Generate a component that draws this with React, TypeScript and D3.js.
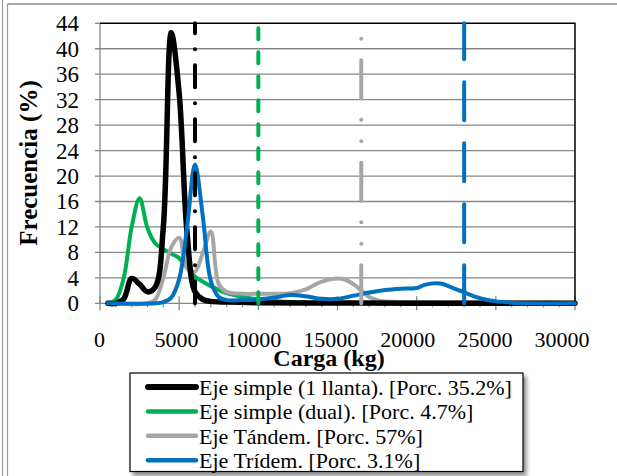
import React from 'react';
import * as d3 from 'd3';

// carga (kg), frecuencia (%)
const simpleLlanta: [number, number][] = [
  [500, 0], [1000, 0], [1500, 0.7], [2000, 3.9], [2500, 3], [3000, 1.8], [3500, 2.6],
  [4000, 12], [4500, 42.5], [5000, 33], [5500, 11], [6000, 1.8], [6500, 0.6], [7000, 0.3],
  [8000, 0.2], [10000, 0.1], [15000, 0.05], [20000, 0], [30000, 0],
];
const simpleDual: [number, number][] = [
  [500, 0], [1000, 0.6], [1500, 4], [2000, 12], [2500, 16.5], [3000, 11.8], [3500, 9.4],
  [4000, 8.5], [4500, 7.8], [5000, 7.1], [5500, 5.6], [6000, 4.2], [6500, 3.4], [7000, 2.7],
  [7500, 2.1], [8000, 1.6], [9000, 1], [10000, 0.6], [11000, 0.35], [12000, 0.2],
  [13000, 0.1], [15000, 0.05], [20000, 0], [30000, 0],
];
const tandem: [number, number][] = [
  [500, 0], [3000, 0], [3500, 0.6], [4000, 4], [4500, 8.8], [5000, 10.3], [5500, 5.5],
  [6000, 5], [6500, 8], [7000, 11.3], [7500, 3], [8000, 1.8], [9000, 1.5], [10000, 1.5],
  [11000, 1.5], [12000, 1.6], [13000, 2.2], [14000, 3.4], [15000, 3.9], [15500, 3.7],
  [16000, 3], [16500, 2], [17000, 1], [17500, 0.5], [18000, 0.3], [20000, 0.2],
  [25000, 0.15], [30000, 0.1],
];
const tridem: [number, number][] = [
  [500, 0], [3500, 0], [4000, 0.2], [4500, 0.9], [5000, 3.8], [5500, 12], [6000, 21.8],
  [6500, 13.5], [7000, 3.5], [7500, 1], [8000, 0.5], [9000, 0.5], [10000, 0.6], [11000, 0.9],
  [12000, 1.3], [13000, 1.1], [14000, 0.7], [15000, 0.7], [16000, 1.2], [17000, 1.7],
  [18000, 2.1], [19000, 2.3], [20000, 2.4], [20500, 2.9], [21500, 3.1], [22000, 2.7],
  [23000, 1.7], [24000, 0.8], [25000, 0.3], [26000, 0.1], [27000, 0], [30000, 0],
];

const legendLabels = [
  'Eje simple (1 llanta). [Porc. 35.2%]',
  'Eje simple (dual). [Porc. 4.7%]',
  'Eje Tándem. [Porc. 57%]',
  'Eje Trídem. [Porc. 3.1%]',
];
const refLoads = [6000, 10000, 16500, 23000];
const xTicks = [0, 5000, 10000, 15000, 20000, 25000, 30000];
const yTicks = [0, 4, 8, 12, 16, 20, 24, 28, 32, 36, 40, 44];

const colors = ['#000000', '#00b050', '#a6a6a6', '#0070c0'];
const widths = [5.5, 4, 4, 4];
const dashes = ['22 16 0 16', '11 13', '38 21.5 0 21.5 0 21.5', '38 23'];
const series = [simpleLlanta, simpleDual, tandem, tridem];
const drawOrder = [1, 2, 0, 3];

const serif = 'Liberation Serif, DejaVu Serif, serif';

export default function App() {
  const x = d3.scaleLinear().domain([0, 30000]).range([100, 575]);
  const xLabel = d3.scaleLinear().domain([0, 30000]).range([99.5, 562]);
  const y = d3.scaleLinear().domain([0, 44]).range([303.3, 23.3]);
  const line = d3.line<[number, number]>()
    .x(d => x(d[0]))
    .y(d => y(d[1]))
    .curve(d3.curveCatmullRom.alpha(0.5));
  const minor = d3.range(1000, 30000, 1000).filter(v => v % 5000 !== 0);
  const txt = {fontFamily: serif};

  return (
    <svg width={617} height={476} style={{position: 'absolute', left: 0, top: 0}}>
      <defs>
        <filter id="shadow" x="-10%" y="-10%" width="130%" height="140%">
          <feDropShadow dx="3" dy="4" stdDeviation="2" floodColor="#000" floodOpacity="0.45" />
        </filter>
      </defs>
      <rect width={617} height={476} fill="#fff" />
      {/* marco */}
      <line x1={2.5} x2={2.5} y1={0} y2={476} stroke="#999" strokeWidth={1.2} />
      <line x1={7.5} x2={7.5} y1={4} y2={476} stroke="#999" strokeWidth={1.2} />
      <line x1={7.5} x2={617} y1={4} y2={4} stroke="#8c8c8c" strokeWidth={1.4} />

      {/* rejilla */}
      {yTicks.filter(t => t > 0 && t < 44).map(t => (
        <line key={t} x1={95} x2={575} y1={y(t)} y2={y(t)} stroke="#878787" strokeWidth={1.3} />
      ))}
      <line x1={95} x2={100} y1={y(0)} y2={y(0)} stroke="#878787" strokeWidth={1.3} />
      <line x1={95} x2={100} y1={y(44)} y2={y(44)} stroke="#878787" strokeWidth={1.3} />
      <line x1={100} x2={100} y1={y(44)} y2={y(0)} stroke="#878787" strokeWidth={1.3} />
      <line x1={100} x2={575} y1={y(0)} y2={y(0)} stroke="#878787" strokeWidth={1.3} />
      {minor.map(v => (
        <line key={v} x1={x(v)} x2={x(v)} y1={y(0)} y2={y(0) + 4} stroke="#878787" strokeWidth={1.2} />
      ))}
      {xTicks.map(v => (
        <line key={v} x1={x(v)} x2={x(v)} y1={y(0) - 7} y2={y(0) + 7} stroke="#878787" strokeWidth={1.3} />
      ))}
      <path d={`M100,${y(44)}H575V${y(0)}`} fill="none" stroke="#000" strokeWidth={1.5} />

      {/* curvas */}
      {drawOrder.map(i => (
        <path key={i} d={line(series[i]) || ''} fill="none" stroke={colors[i]}
          strokeWidth={widths[i]} strokeLinejoin="round" strokeLinecap="round" />
      ))}

      {/* límites */}
      {refLoads.map((v, i) => (
        <line key={v} x1={x(v)} x2={x(v)} y1={y(0)} y2={y(44)} stroke={colors[i]}
          strokeWidth={4} strokeLinecap="round" strokeDasharray={dashes[i]} />
      ))}

      {/* ejes */}
      {yTicks.map(t => (
        <text key={t} x={79} y={y(t) + 8} textAnchor="end" fontSize={23} style={txt}>{t}</text>
      ))}
      {xTicks.map(v => (
        <text key={v} x={xLabel(v)} y={347} textAnchor="middle" fontSize={22} style={txt}>{v}</text>
      ))}
      <text x={329} y={366} textAnchor="middle" fontSize={24} fontWeight="bold" style={txt}>Carga (kg)</text>
      <text transform="translate(37,163) rotate(-90)" textAnchor="middle" fontSize={25} fontWeight="bold" style={txt}>Frecuencia (%)</text>

      {/* leyenda */}
      <rect x={130} y={373} width={393} height={98.5} fill="#fff" stroke="#000" strokeWidth={1.2} filter="url(#shadow)" />
      {legendLabels.map((lab, i) => {
        const base = 395 + i * 24.4;
        return (
          <g key={lab}>
            <line x1={148} x2={196} y1={base - 8} y2={base - 8} stroke={colors[i]}
              strokeWidth={i === 0 ? 6 : 4.5} strokeLinecap="round" />
            <text x={199} y={base} fontSize={22} style={txt}>{lab}</text>
          </g>
        );
      })}
    </svg>
  );
}
